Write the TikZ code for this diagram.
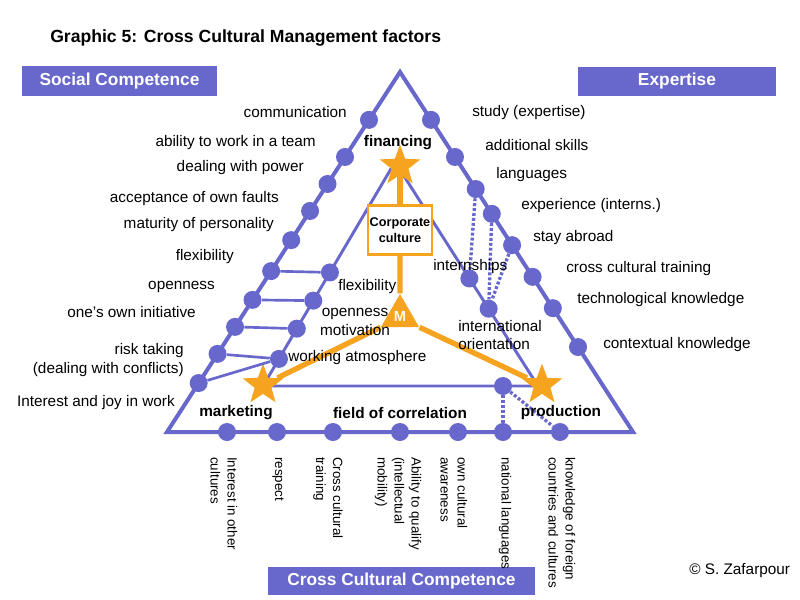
\documentclass[tikz,border=0pt]{standalone}
\usepackage{fontspec}
\setmainfont{Liberation Sans}
\usetikzlibrary{calc,shapes.geometric}
\definecolor{ccmblue}{RGB}{104,104,204}
\definecolor{ccmorange}{RGB}{246,163,32}

\begin{document}
\begin{tikzpicture}[
            x=0.75pt, y=-0.75pt,
            outer/.style={draw=ccmblue, line width=3pt, line join=miter},
            inner/.style={draw=ccmblue, line width=2.2pt},
            link/.style={draw=ccmblue, line width=2pt},
            dotline/.style={draw=ccmblue, line width=2.5pt, dash pattern=on 2.2pt off 1.5pt},
            bluedot/.style={circle, fill=ccmblue, minimum size=13.5pt, inner sep=0pt},
            orangeline/.style={draw=ccmorange, line width=4pt},
            starnode/.style={star, star points=5, star point ratio=2.4, fill=ccmorange, minimum size=32pt, inner sep=0pt},
            headbox/.style={rectangle, fill=ccmblue, text=white, font=\fontsize{13}{15}\selectfont\bfseries, minimum height=22pt},
            lbl/.style={inner sep=0pt, font=\fontsize{11.5}{14}\selectfont},
            field/.style={inner sep=0pt, font=\fontsize{11.5}{14}\selectfont\bfseries},
            vlbl/.style={inner sep=0pt, rotate=-90, anchor=west, align=left, font=\fontsize{10}{12.75}\selectfont}
        ]
            \useasboundingbox (0,0) rectangle (800,600);

            % --- TITEL UND KOPFBOXEN ---
            \node[anchor=west, inner sep=0pt, font=\fontsize{13.2}{15}\selectfont\bfseries] (title) at (50,38) {Graphic 5: Cross Cultural Management factors};
            \node[headbox, minimum width=146pt] (social) at (119.5,81) {Social Competence};
            \node[headbox, minimum width=148pt] (expert) at (677,81.5) {Expertise};
            \node[headbox, minimum width=200pt, minimum height=21pt] (ccc) at (401.5,581) {Cross Cultural Competence};

            % --- DREIECKE ---
            \coordinate (top) at (400,72);
            \coordinate (bl) at (167,432);
            \coordinate (br) at (633,432);
            \coordinate (itop) at (395,162);
            \coordinate (ibl) at (263,386);
            \coordinate (ibr) at (538,386);

            \draw[outer] (top) -- (bl) -- (br) -- cycle;
            \draw[inner] (itop) -- (ibl) -- (ibr) -- cycle;

            % --- UNTERNEHMENSKULTUR (orange) ---
            \node[starnode] (finstar) at (400,166) {};
            \node[starnode] (mktstar) at (263,385) {};
            \node[starnode] (prodstar) at (542,385) {};
            \node[rectangle, draw=ccmorange, line width=2.2pt, fill=white, align=center, minimum width=48pt, minimum height=37pt, inner sep=1pt, font=\fontsize{9.5}{12}\selectfont\bfseries] (corp) at (400,230) {Corporate\\culture};
            \node[regular polygon, regular polygon sides=3, fill=ccmorange, minimum size=33pt, inner sep=0pt, text=white!92!ccmorange, font=\fontsize{11}{13}\selectfont\bfseries] (mnode) at (400,316) {M};

            \draw[orangeline] (finstar) -- (corp);
            \draw[orangeline] (corp) -- (mnode);
            \draw[orangeline] (mnode.corner 2) -- (mktstar);
            \draw[orangeline] (mnode.corner 3) -- (prodstar);

            % --- PUNKTE AUSSEN LINKS ---
            \node[bluedot] (ol1) at ($(top)!0.133!(bl)$) {};
            \node[bluedot] (ol2) at ($(top)!0.236!(bl)$) {};
            \node[bluedot] (ol3) at ($(top)!0.311!(bl)$) {};
            \node[bluedot] (ol4) at ($(top)!0.386!(bl)$) {};
            \node[bluedot] (ol5) at ($(top)!0.467!(bl)$) {};
            \node[bluedot] (ol6) at ($(top)!0.553!(bl)$) {};
            \node[bluedot] (ol7) at ($(top)!0.633!(bl)$) {};
            \node[bluedot] (ol8) at ($(top)!0.708!(bl)$) {};
            \node[bluedot] (ol9) at ($(top)!0.783!(bl)$) {};
            \node[bluedot] (ol10) at ($(top)!0.864!(bl)$) {};

            % --- PUNKTE AUSSEN RECHTS ---
            \node[bluedot] (or1) at ($(top)!0.133!(br)$) {};
            \node[bluedot] (or2) at ($(top)!0.236!(br)$) {};
            \node[bluedot] (or3) at ($(top)!0.325!(br)$) {};
            \node[bluedot] (or4) at ($(top)!0.394!(br)$) {};
            \node[bluedot] (or5) at ($(top)!0.481!(br)$) {};
            \node[bluedot] (or6) at ($(top)!0.569!(br)$) {};
            \node[bluedot] (or7) at ($(top)!0.656!(br)$) {};
            \node[bluedot] (or8) at ($(top)!0.764!(br)$) {};

            % --- PUNKTE INNEN ---
            \node[bluedot] (il1) at ($(itop)!0.493!(ibl)$) {};
            \node[bluedot] (il2) at ($(itop)!0.619!(ibl)$) {};
            \node[bluedot] (il3) at ($(itop)!0.744!(ibl)$) {};
            \node[bluedot] (il4) at ($(itop)!0.879!(ibl)$) {};
            \node[bluedot] (ir1) at ($(itop)!0.520!(ibr)$) {};
            \node[bluedot] (ir2) at ($(itop)!0.655!(ibr)$) {};
            \node[bluedot] (ib1) at (503,386) {};

            % --- PUNKTE UNTEN ---
            \node[bluedot] (b1) at (227,432) {};
            \node[bluedot] (b2) at (277,432) {};
            \node[bluedot] (b3) at (333,432) {};
            \node[bluedot] (b4) at (400,432) {};
            \node[bluedot] (b5) at (458,432) {};
            \node[bluedot] (b6) at (503,432) {};
            \node[bluedot] (b7) at (560,432) {};

            % --- VERBINDUNGEN ---
            \draw[link] (ol6) -- (il1);
            \draw[link] (ol7) -- (il2);
            \draw[link] (ol8) -- (il3);
            \draw[link] (ol9) -- (il4);
            \draw[link] (ol10) -- (il4);
            \draw[dotline] (or3) -- (ir1);
            \draw[dotline] (or4) -- (ir2);
            \draw[dotline] (or5) -- (ir2);
            \draw[dotline] (ib1) -- (b6);
            \draw[dotline] (ib1) -- (b7);

            % --- BEREICHE ---
            \node[field] (financing) at (398,143) {financing};
            \node[field] (marketing) at (236,413) {marketing};
            \node[field] (correlation) at (400,413) {field of correlation};
            \node[field] (production) at (561,413) {production};

            % --- SOZIALKOMPETENZ (links) ---
            \node[lbl, anchor=east] (communication) at (347,112) {communication};
            \node[lbl, anchor=east] (team) at (316,143) {ability to work in a team};
            \node[lbl, anchor=east] (power) at (304,168) {dealing with power};
            \node[lbl, anchor=east] (faults) at (279,199) {acceptance of own faults};
            \node[lbl, anchor=east] (maturity) at (274,225) {maturity of personality};
            \node[lbl, anchor=east] (flexout) at (234,257) {flexibility};
            \node[lbl, anchor=east] (openout) at (215,287) {openness};
            \node[lbl, anchor=east] (initiative) at (196,312) {one’s own initiative};
            \node[lbl, anchor=east, align=right] (risk) at (184,360) {risk taking\\(dealing with conflicts)};
            \node[lbl, anchor=east] (joy) at (175,403) {Interest and joy in work};

            % --- FACHKOMPETENZ (rechts) ---
            \node[lbl, anchor=west] (study) at (472,113) {study (expertise)};
            \node[lbl, anchor=west] (skills) at (485,145) {additional skills};
            \node[lbl, anchor=west] (languages) at (496,175) {languages};
            \node[lbl, anchor=west] (experience) at (521,206) {experience (interns.)};
            \node[lbl, anchor=west] (abroad) at (533,238) {stay abroad};
            \node[lbl, anchor=west] (training) at (566,269) {cross cultural training};
            \node[lbl, anchor=west] (techno) at (577,300) {technological knowledge};
            \node[lbl, anchor=west] (context) at (603,345) {contextual knowledge};

            % --- INNEN ---
            \node[lbl, anchor=west] (internships) at (433,267) {internships};
            \node[lbl, anchor=west, align=left] (orientation) at (458,335) {international\\orientation};
            \node[lbl, anchor=west] (flexin) at (338,287) {flexibility};
            \node[lbl, align=center] (openin) at (355,322) {openness\\motivation};
            \node[lbl, anchor=west] (atmosphere) at (288,358) {working atmosphere};

            % --- INTERKULTURELLE KOMPETENZ (unten) ---
            \node[vlbl] (interest) at (224,457) {Interest in other\\cultures};
            \node[vlbl] (respect) at (278,457) {respect};
            \node[vlbl] (cctraining) at (328,457) {Cross cultural\\training};
            \node[vlbl] (qualify) at (398,457) {Ability to qualify\\(intellectual\\mobility)};
            \node[vlbl] (awareness) at (454,457) {own cultural\\awareness};
            \node[vlbl] (national) at (505,457) {national languages};
            \node[vlbl] (foreign) at (562,457) {knowledge of foreign\\countries and cultures};

            \node[lbl, anchor=west] (copyright) at (689,571) {© S. Zafarpour};

        \end{tikzpicture}
\end{document}
